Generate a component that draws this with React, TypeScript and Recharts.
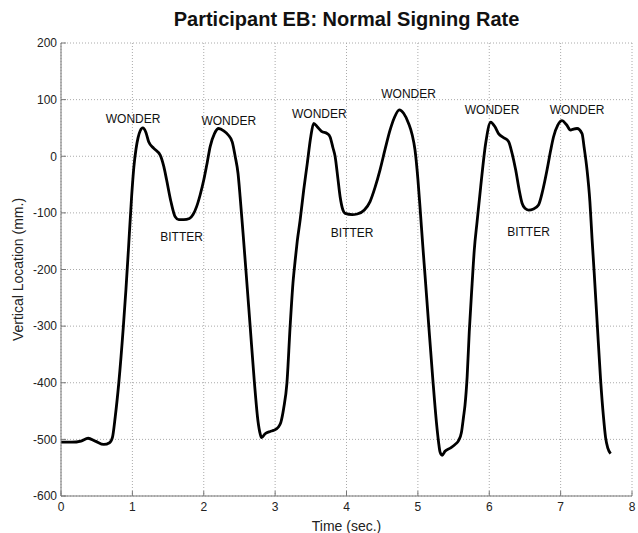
import { LineChart, Line, XAxis, YAxis, CartesianGrid, ReferenceDot } from 'recharts';

const timeSec = [
  0, 0.15, 0.28, 0.38, 0.48, 0.6, 0.68, 0.72, 0.76, 0.81, 0.874, 0.91, 0.944, 0.99, 1.02, 1.05, 1.08, 1.11, 1.146,
  1.19, 1.23, 1.3, 1.39, 1.44, 1.48, 1.54, 1.6, 1.65, 1.72, 1.8, 1.85, 1.9, 1.95, 2.0, 2.05, 2.09, 2.15, 2.21, 2.28,
  2.34, 2.4, 2.44, 2.48, 2.51, 2.55, 2.59, 2.65, 2.71, 2.76, 2.79, 2.81, 2.86, 2.93, 2.98, 3.04, 3.08, 3.12, 3.165,
  3.21, 3.25, 3.28, 3.31, 3.35, 3.4, 3.45, 3.5, 3.54, 3.59, 3.65, 3.73, 3.77, 3.81, 3.84, 3.88, 3.91, 3.95, 3.98,
  4.08, 4.15, 4.25, 4.33, 4.4, 4.47, 4.54, 4.61, 4.67, 4.74, 4.8, 4.87, 4.92, 4.96, 5.0, 5.03, 5.07, 5.1, 5.15, 5.21,
  5.26, 5.29, 5.31, 5.34, 5.38, 5.46, 5.53, 5.57, 5.61, 5.64, 5.66, 5.69, 5.72, 5.76, 5.79, 5.83, 5.88, 5.95, 6.02,
  6.08, 6.13, 6.2, 6.27, 6.32, 6.37, 6.42, 6.46, 6.5, 6.55, 6.62, 6.69, 6.75, 6.81, 6.86, 6.9, 6.96, 7.02, 7.08,
  7.14, 7.18, 7.23, 7.3, 7.33, 7.37, 7.41, 7.44, 7.47, 7.51, 7.56, 7.6, 7.63, 7.66, 7.7,
];

const locationMm = [
  -505, -505, -503, -498, -503, -509, -506, -497, -460, -400, -300, -235, -166, -70, -20, 12, 33, 45, 50,
  42, 25, 14, 2, -18, -42, -80, -107, -112, -112, -110, -103, -89, -68, -42, -10, 17, 40, 49, 45,
  38, 25, 0, -30, -72, -135, -200, -300, -400, -468, -490, -497, -490, -486, -484, -479, -470, -445, -401,
  -301, -224, -185, -150, -113, -60, -13, 35, 58, 52, 44, 40, 34, 15, 0, -40, -71, -95, -101,
  -103, -102, -95, -80, -55, -24, 12, 46, 68, 82, 76, 58, 38, 11, -40, -90, -160, -210, -295, -395,
  -470, -505, -522, -528, -521, -515, -508, -502, -488, -460, -440, -390, -310, -225, -166, -115, -54, 23, 60,
  52, 40, 33, 26, 5, -24, -60, -83, -92, -95, -93, -86, -60, -24, 10, 34, 55, 63, 56,
  46, 48, 49, 40, 15, -24, -80, -145, -205, -290, -395, -460, -497, -515, -525,
];

const xTicks = [0, 1, 2, 3, 4, 5, 6, 7, 8];
const yTicks = [-600, -500, -400, -300, -200, -100, 0, 100, 200];

const labelText = ['WONDER', 'WONDER', 'BITTER', 'WONDER', 'WONDER', 'BITTER', 'WONDER', 'WONDER', 'BITTER'];
const labelTime = [1.01, 2.35, 1.69, 3.62, 4.87, 4.08, 6.04, 7.23, 6.55];
const labelLoc = [65, 63, -142, 74, 110, -136, 82, 82, -134];

const data = timeSec.map((t, i) => ({ t, v: locationMm[i] }));
const font = '"Liberation Sans", Arial, Helvetica, sans-serif';
const tickStyle = { fill: '#222', fontSize: 12, fontFamily: font };

export default function App() {
  return (
    <div style={{ position: 'absolute', left: 0, top: 0, width: 638, height: 533, background: '#fff' }}>
      <div
        style={{
          position: 'absolute',
          left: 61,
          width: 571,
          top: 8,
          textAlign: 'center',
          fontFamily: font,
          fontWeight: 'bold',
          fontSize: 20,
          color: '#111',
        }}
      >
        Participant EB: Normal Signing Rate
      </div>
      <LineChart width={638} height={533} data={data} margin={{ top: 43, right: 6, left: 0, bottom: 0 }}>
        <CartesianGrid stroke="#aaa" strokeDasharray="1 2" horizontalValues={yTicks} verticalValues={xTicks} />
        <XAxis
          dataKey="t"
          type="number"
          domain={[0, 8]}
          ticks={xTicks}
          height={37}
          tickSize={-5}
          tickMargin={11}
          stroke="#777"
          tick={tickStyle}
          label={{ value: 'Time (sec.)', position: 'insideBottom', offset: 2, fill: '#222', fontSize: 14, fontFamily: font }}
        />
        <XAxis xAxisId="top" orientation="top" type="number" domain={[0, 8]} ticks={xTicks} height={0} tickSize={-5} tick={false} stroke="#777" />
        <YAxis
          type="number"
          domain={[-600, 200]}
          ticks={yTicks}
          width={61}
          tickSize={-5}
          tickMargin={9}
          stroke="#777"
          tick={tickStyle}
          label={{
            value: 'Vertical Location (mm.)',
            angle: -90,
            position: 'insideLeft',
            offset: 18,
            fill: '#222',
            fontSize: 14,
            fontFamily: font,
            style: { textAnchor: 'middle' },
          }}
        />
        <YAxis yAxisId="right" orientation="right" type="number" domain={[-600, 200]} ticks={yTicks} width={0} tickSize={-5} tick={false} stroke="#777" />
        <Line dataKey="v" type="monotone" stroke="#000" strokeWidth={2.8} dot={false} isAnimationActive={false} />
        {labelText.map((txt, i) => (
          <ReferenceDot
            key={i}
            x={labelTime[i]}
            y={labelLoc[i]}
            r={0}
            shape={(p: any) => (
              <text x={p.cx} y={p.cy} textAnchor="middle" dominantBaseline="central" fontSize={12} fontFamily={font} fill="#111">
                {txt}
              </text>
            )}
          />
        ))}
      </LineChart>
    </div>
  );
}
